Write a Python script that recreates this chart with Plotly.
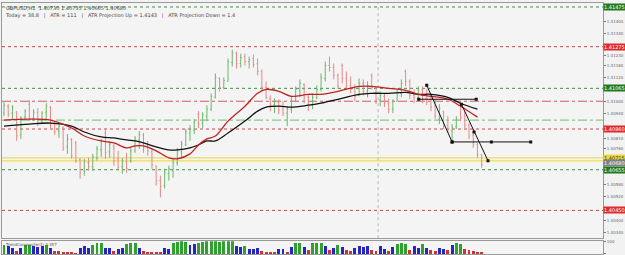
import plotly.graph_objects as go

# ---------------- data ----------------
bar_open = [
    1.40940, 1.40975, 1.40940, 1.40945, 1.40830, 1.40920, 1.40985, 1.40915, 1.40945, 1.40900,
    1.40945, 1.40970, 1.40885, 1.40850, 1.40865, 1.40770, 1.40805, 1.40790, 1.40705, 1.40650,
    1.40690, 1.40670, 1.40715, 1.40755, 1.40840, 1.40745, 1.40775, 1.40710, 1.40670, 1.40695,
    1.40700, 1.40750, 1.40805, 1.40830, 1.40770, 1.40745, 1.40675, 1.40600, 1.40575, 1.40635,
    1.40650, 1.40690, 1.40745, 1.40780, 1.40840, 1.40855, 1.40935, 1.40890, 1.40925, 1.40960,
    1.41020, 1.41115, 1.41070, 1.41100, 1.41195, 1.41240, 1.41190, 1.41225, 1.41200, 1.41215,
    1.41190, 1.41150, 1.41070, 1.41015, 1.40980, 1.40995, 1.40960, 1.40940, 1.40960, 1.41000,
    1.41055, 1.41085, 1.41020, 1.40980, 1.41020, 1.41060, 1.41115, 1.41180, 1.41170, 1.41130,
    1.41180, 1.41115, 1.41080, 1.41060, 1.41030, 1.41090, 1.41050, 1.41130, 1.41065, 1.41005,
    1.41025, 1.40990, 1.40960, 1.41000, 1.41040, 1.41150, 1.41100, 1.41030, 1.41015, 1.41060,
    1.41015, 1.41000, 1.40975, 1.40910, 1.40950, 1.40880, 1.40850, 1.40870, 1.40980, 1.40925,
    1.40880, 1.40830, 1.40780, 1.40730,
]
bar_high = [
    1.40995, 1.40985, 1.40980, 1.40950, 1.40925, 1.40960, 1.41005, 1.40960, 1.40965, 1.40950,
    1.40990, 1.40975, 1.40900, 1.40890, 1.40875, 1.40835, 1.40815, 1.40800, 1.40715, 1.40710,
    1.40715, 1.40735, 1.40775, 1.40810, 1.40865, 1.40800, 1.40785, 1.40750, 1.40715, 1.40740,
    1.40765, 1.40825, 1.40850, 1.40840, 1.40800, 1.40760, 1.40675, 1.40625, 1.40660, 1.40675,
    1.40710, 1.40765, 1.40800, 1.40860, 1.40880, 1.40910, 1.40950, 1.40945, 1.40980, 1.41040,
    1.41140, 1.41120, 1.41120, 1.41215, 1.41260, 1.41250, 1.41240, 1.41240, 1.41225, 1.41235,
    1.41215, 1.41160, 1.41100, 1.41030, 1.41015, 1.41010, 1.41000, 1.40975, 1.41025, 1.41075,
    1.41110, 1.41090, 1.41030, 1.41040, 1.41080, 1.41140, 1.41200, 1.41225, 1.41190, 1.41140,
    1.41190, 1.41150, 1.41125, 1.41085, 1.41115, 1.41110, 1.41100, 1.41140, 1.41075, 1.41050,
    1.41040, 1.41015, 1.41010, 1.41060, 1.41110, 1.41160, 1.41110, 1.41060, 1.41075, 1.41075,
    1.41060, 1.41040, 1.41010, 1.40985, 1.40950, 1.40925, 1.40885, 1.40925, 1.40985, 1.40950,
    1.40890, 1.40850, 1.40790, 1.40735,
]
bar_low = [
    1.40925, 1.40920, 1.40910, 1.40800, 1.40810, 1.40905, 1.40900, 1.40900, 1.40875, 1.40890,
    1.40910, 1.40865, 1.40830, 1.40815, 1.40750, 1.40735, 1.40710, 1.40690, 1.40610, 1.40625,
    1.40650, 1.40650, 1.40700, 1.40720, 1.40710, 1.40715, 1.40675, 1.40650, 1.40635, 1.40640,
    1.40690, 1.40740, 1.40760, 1.40740, 1.40725, 1.40660, 1.40575, 1.40515, 1.40560, 1.40600,
    1.40615, 1.40675, 1.40710, 1.40775, 1.40800, 1.40835, 1.40865, 1.40865, 1.40900, 1.40950,
    1.41015, 1.41050, 1.41060, 1.41100, 1.41175, 1.41165, 1.41170, 1.41180, 1.41165, 1.41170,
    1.41130, 1.41050, 1.41010, 1.40950, 1.40940, 1.40935, 1.40925, 1.40875, 1.40940, 1.41000,
    1.41020, 1.40990, 1.40950, 1.40960, 1.41010, 1.41050, 1.41100, 1.41150, 1.41110, 1.41060,
    1.41090, 1.41065, 1.41040, 1.41000, 1.41025, 1.41030, 1.41020, 1.41060, 1.40985, 1.40975,
    1.40970, 1.40940, 1.40940, 1.41000, 1.41020, 1.41075, 1.41010, 1.40990, 1.41000, 1.40990,
    1.40980, 1.40950, 1.40910, 1.40885, 1.40860, 1.40840, 1.40800, 1.40860, 1.40900, 1.40865,
    1.40810, 1.40765, 1.40715, 1.40665,
]
bar_close = [
    1.40980, 1.40935, 1.40970, 1.40825, 1.40915, 1.40950, 1.40910, 1.40945, 1.40890, 1.40940,
    1.40975, 1.40880, 1.40845, 1.40875, 1.40765, 1.40810, 1.40725, 1.40700, 1.40640, 1.40695,
    1.40670, 1.40720, 1.40760, 1.40800, 1.40740, 1.40785, 1.40700, 1.40665, 1.40700, 1.40660,
    1.40750, 1.40810, 1.40830, 1.40765, 1.40750, 1.40680, 1.40600, 1.40570, 1.40640, 1.40660,
    1.40690, 1.40750, 1.40785, 1.40845, 1.40860, 1.40895, 1.40885, 1.40930, 1.40960, 1.41025,
    1.41120, 1.41070, 1.41105, 1.41200, 1.41245, 1.41190, 1.41220, 1.41200, 1.41210, 1.41185,
    1.41150, 1.41070, 1.41020, 1.40980, 1.41000, 1.40955, 1.40940, 1.40960, 1.41000, 1.41060,
    1.41090, 1.41020, 1.40980, 1.41020, 1.41060, 1.41120, 1.41180, 1.41170, 1.41130, 1.41075,
    1.41115, 1.41080, 1.41060, 1.41025, 1.41090, 1.41050, 1.41080, 1.41070, 1.41005, 1.41030,
    1.40990, 1.40960, 1.41000, 1.41045, 1.41090, 1.41100, 1.41030, 1.41020, 1.41055, 1.41010,
    1.40995, 1.40970, 1.40925, 1.40965, 1.40875, 1.40860, 1.40870, 1.40910, 1.40920, 1.40880,
    1.40825, 1.40780, 1.40730, 1.40680,
]

# moving averages read at sample bars
ma_idx = [0, 6, 11, 16, 19, 23, 26, 29, 31, 33, 36, 39, 41, 44, 46, 48, 50, 53, 57, 60,
          62, 65, 68, 72, 75, 79, 84, 87, 91, 95, 98, 101, 105, 108, 112]
ma_fast = [1.40905, 1.40910, 1.40905, 1.40865, 1.40825, 1.40800, 1.40790, 1.40765, 1.40775, 1.40775,
           1.40750, 1.40715, 1.40710, 1.40735, 1.40780, 1.40810, 1.40825, 1.40900, 1.40975, 1.41040,
           1.41060, 1.41050, 1.41025, 1.41035, 1.41035, 1.41050, 1.41075, 1.41075, 1.41065, 1.41055,
           1.41035, 1.41025, 1.41010, 1.40975, 1.40920]
ma_slow = [1.40875, 1.40885, 1.40890, 1.40875, 1.40845, 1.40820, 1.40815, 1.40805, 1.40800, 1.40790,
           1.40770, 1.40755, 1.40755, 1.40765, 1.40780, 1.40800, 1.40800, 1.40840, 1.40900, 1.40950,
           1.40970, 1.40975, 1.40970, 1.40980, 1.40990, 1.41010, 1.41035, 1.41040, 1.41040, 1.41045,
           1.41035, 1.41035, 1.41020, 1.40990, 1.40960]

# drawn trendlines (bar position, price)
trend_a_x = [100, 106]
trend_a_y = [1.41080, 1.40795]
trend_b_x = [106, 115.3, 124.6]
trend_b_y = [1.40795, 1.40795, 1.40795]
trend_c_x = [98.1, 111.7]
trend_c_y = [1.41010, 1.41010]
trend_d_x = [108.2, 111.2, 114.5]
trend_d_y = [1.40985, 1.40845, 1.40700]

# horizontal levels
level_vals = [1.41475, 1.41275, 1.41065, 1.41000, 1.40905, 1.40860, 1.40715, 1.40700, 1.40655, 1.40450]
level_kind = ["g", "r", "g", "rdd", "gdd", "r", "y", "y", "g", "r"]
level_boxed = [True, True, True, False, False, True, True, False, True, True]
vline_idx = 88.5

# price axis tick labels
tick_vals = [1.40340, 1.40400, 1.40520, 1.40580, 1.40760, 1.40810, 1.40940, 1.41000,
             1.41120, 1.41180, 1.41230, 1.41340, 1.41400]
sub_tick_vals = [0, 100]

# indicator histogram
hist_vals = [70, 65, 45, 25, 45, 75, 75, 60, 55, 60,
             70, 50, 25, 20, 15, 10, 8, 6, 45, 60,
             45, 75, 85, 90, 50, 45, 20, 35, 45, 80,
             90, 85, 50, 25, 15, 12, 10, 8, 45, 40,
             85, 95, 100, 95, 75, 80, 90, 95, 100, 100,
             100, 95, 100, 100, 100, 65, 55, 60, 40, 35,
             50, 20, 15, 12, 10, 35, 40, 15, 55, 85,
             90, 55, 30, 85, 90, 85, 60, 30, 45, 75,
             55, 30, 20, 45, 65, 55, 60, 30, 25, 60,
             40, 20, 55, 80, 85, 80, 30, 60, 50, 80,
             50, 30, 20, 50, 40, 30, 70, 90, 80, 40,
             30, 20, 10, 8]
hist_state = ("gbbrbggbbb" "gbrrrrrrbb" "bgggbbrbbg" "ggbrrrrrbb" "ggggbbgggg"
              "gggggbbgbb" "brrrrbbrbg" "gbrgggbrbg" "brrbbbbrrb" "brbgggrbbg"
              "brrbbrbggr" "rrrr")

header_1 = "GBPUSD,H1  1.40730 1.40735 1.40665 1.40680"
header_2 = "Today = 38.8   |   ATR = 111   |   ATR Projection Up = 1.4143   |   ATR Projection Down = 1.4"
sub_label = "TrendComposite(3) 3.357"

# ---------------- figure ----------------
idx = list(range(len(bar_close)))
fig = go.Figure()

fig.add_trace(go.Ohlc(
    x=idx, open=bar_open, high=bar_high, low=bar_low, close=bar_close,
    increasing=dict(line=dict(color="#6cb86c", width=1)),
    decreasing=dict(line=dict(color="#e58a8a", width=1)),
    tickwidth=0.25, xaxis="x", yaxis="y", hoverinfo="skip"))

fig.add_trace(go.Scatter(x=ma_idx, y=ma_slow, mode="lines", line=dict(color="#111111", width=1.3, shape="spline"),
                         xaxis="x", yaxis="y", hoverinfo="skip"))
fig.add_trace(go.Scatter(x=ma_idx, y=ma_fast, mode="lines", line=dict(color="#c42020", width=1.3, shape="spline"),
                         xaxis="x", yaxis="y", hoverinfo="skip"))

for tx, ty in [(trend_a_x, trend_a_y), (trend_b_x, trend_b_y), (trend_c_x, trend_c_y), (trend_d_x, trend_d_y)]:
    fig.add_trace(go.Scatter(x=tx, y=ty, mode="lines+markers",
                             line=dict(color="#111111", width=1),
                             marker=dict(symbol="square", size=3, color="#111111"),
                             xaxis="x", yaxis="y", hoverinfo="skip"))

hist_colors = {"g": "#2fa12f", "b": "#2626c4", "r": "#cc3333"}
fig.add_trace(go.Bar(x=idx, y=hist_vals, marker=dict(color=[hist_colors[s] for s in hist_state], line=dict(width=0)),
                     width=0.7, xaxis="x2", yaxis="y2", hoverinfo="skip"))

line_style = {
    "g": dict(color="#3f8f3f", width=1, dash="dot"),
    "r": dict(color="#c84848", width=1, dash="dot"),
    "rdd": dict(color="#c86060", width=1, dash="dashdot"),
    "gdd": dict(color="#6cc06c", width=1, dash="dashdot"),
    "y": dict(color="#eedd55", width=1.2),
}
box_color = {"g": "#1f7a1f", "r": "#dd2a2a", "y": "#e8d840"}
shapes = []
annotations = []
for v, k, b in zip(level_vals, level_kind, level_boxed):
    shapes.append(dict(type="line", xref="paper", x0=0, x1=1, yref="y", y0=v, y1=v, line=line_style[k], layer="below"))
    if b:
        annotations.append(dict(xref="paper", x=1.0, xanchor="left", yref="y", y=v, yanchor="middle",
                                text=f"{v:.5f}", showarrow=False, bgcolor=box_color[k],
                                font=dict(size=5, color="white" if k != "y" else "#333"), borderpad=0))
shapes.append(dict(type="line", xref="x", x0=vline_idx, x1=vline_idx, yref="y domain", y0=0, y1=1,
                   line=dict(color="#b8b8b8", width=1, dash="dot"), layer="below"))
annotations.append(dict(xref="paper", x=1.0, xanchor="left", yref="y", y=bar_close[-1] + 0.0001, yanchor="middle",
                        text=f"{bar_close[-1]:.5f}", showarrow=False, bgcolor="#808080",
                        font=dict(size=5, color="white"), borderpad=0))
annotations.append(dict(xref="paper", x=0.004, xanchor="left", yref="paper", y=0.998, yanchor="top",
                        text=header_1 + "<br>" + header_2, showarrow=False, align="left",
                        font=dict(size=5, color="#444"), borderpad=0))
annotations.append(dict(xref="paper", x=0.004, xanchor="left", yref="y2 domain", y=1.0, yanchor="top",
                        text=sub_label, showarrow=False, font=dict(size=4, color="#555"), borderpad=0))

xr = [-0.47, 141.7]
fig.update_layout(
    width=625, height=255,
    margin=dict(l=1, r=17, t=1, b=1),
    paper_bgcolor="#f2f2f2", plot_bgcolor="#f4f4f4",
    showlegend=False,
    font=dict(family="DejaVu Sans", size=5, color="#555"),
    shapes=shapes, annotations=annotations,
    bargap=0,
    xaxis=dict(domain=[0, 1], range=xr, showgrid=False, showticklabels=False, zeroline=False,
               showline=True, mirror=True, linecolor="#9a9a9a", linewidth=1, rangeslider=dict(visible=False),
               anchor="y"),
    yaxis=dict(domain=[0.063, 1], range=[1.40310, 1.41495], side="right", showgrid=False, zeroline=False,
               tickvals=tick_vals, tickformat=".5f", ticks="outside", ticklen=2, tickcolor="#777",
               tickfont=dict(size=4, color="#666"), showline=True, mirror=True, linecolor="#9a9a9a",
               linewidth=1, anchor="x"),
    xaxis2=dict(domain=[0, 1], range=xr, showgrid=False, showticklabels=False, zeroline=False,
                showline=True, mirror=True, linecolor="#9a9a9a", linewidth=1, anchor="y2"),
    yaxis2=dict(domain=[0, 0.051], range=[0, 104], side="right", showgrid=False, zeroline=False,
                tickvals=sub_tick_vals, ticks="outside", ticklen=2, tickcolor="#777",
                tickfont=dict(size=4, color="#666"), showline=True, mirror=True, linecolor="#9a9a9a",
                linewidth=1, anchor="x2"),
)

fig.write_html("out.html")
